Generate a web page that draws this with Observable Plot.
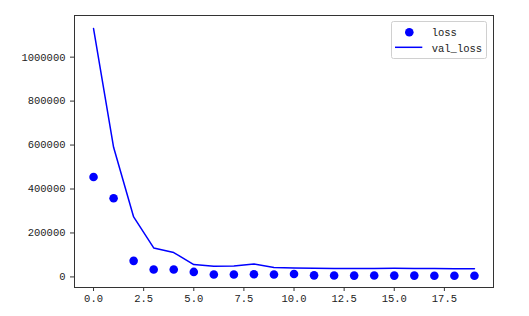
<!DOCTYPE html>
<html>
<head>
<meta charset="utf-8">
<script src="https://cdn.jsdelivr.net/npm/d3@7"></script>
<script src="https://cdn.jsdelivr.net/npm/@observablehq/plot@0.6"></script>
<style>
  html, body { margin: 0; padding: 0; background: #fff; }
  #chart { width: 529px; height: 316px; }
</style>
</head>
<body>
<div id="chart"></div>
<script>
const epochs = [0, 1, 2, 3, 4, 5, 6, 7, 8, 9, 10, 11, 12, 13, 14, 15, 16, 17, 18, 19];
const loss = [454500, 358000, 73000, 34000, 34000, 22700, 11000, 11000, 12000, 11000, 13000, 7000, 6500, 6000, 6500, 6000, 6000, 5500, 5500, 5000];
const valLoss = [1130000, 590000, 273000, 132000, 111000, 56000, 49000, 50000, 59000, 43000, 41000, 39000, 38000, 38000, 38000, 39000, 38000, 38000, 37500, 37000];
const xTicks = [0, 2.5, 5, 7.5, 10, 12.5, 15, 17.5];
const yTicks = [0, 200000, 400000, 600000, 800000, 1000000];
const seriesNames = ["loss", "val_loss"];

const lossData = epochs.map((e, i) => ({epoch: e, value: loss[i]}));
const valData = epochs.map((e, i) => ({epoch: e, value: valLoss[i]}));

const font = "'Liberation Mono', 'DejaVu Sans Mono', monospace";

const chart = Plot.plot({
  width: 529,
  height: 316,
  marginLeft: 74,
  marginRight: 36,
  marginTop: 15,
  marginBottom: 29,
  style: {fontFamily: font, fontSize: "10.5px", color: "#222", background: "#fff"},
  x: {domain: [-0.95, 19.95], label: null},
  y: {domain: [-48182, 1189545], label: null},
  marks: [
    Plot.axisX({ticks: xTicks, tickFormat: d3.format(".1f"), tickSize: 4, tickPadding: 3, stroke: "#333", label: null}),
    Plot.axisY({ticks: yTicks, tickFormat: d3.format("d"), tickSize: 4, tickPadding: 5, stroke: "#333", label: null}),
    Plot.line(valData, {x: "epoch", y: "value", stroke: "#0000ff", strokeWidth: 1.5}),
    Plot.dot(lossData, {x: "epoch", y: "value", r: 4.3, fill: "#0000ff", stroke: "none"}),
    Plot.frame({stroke: "#333", strokeWidth: 1})
  ]
});
document.getElementById("chart").appendChild(chart);

// legend
const svg = d3.select(chart);
const g = svg.append("g").attr("font-family", font).attr("font-size", "10.5px").attr("fill", "#222")
  .attr("text-anchor", "start");
g.append("rect").attr("x", 391.5).attr("y", 21.5).attr("width", 95).attr("height", 37).attr("rx", 2)
  .attr("fill", "#fff").attr("fill-opacity", 0.8).attr("stroke", "#d0d0d0");
g.append("circle").attr("cx", 409.3).attr("cy", 32.3).attr("r", 4.3).attr("fill", "#0000ff");
g.append("line").attr("x1", 395).attr("x2", 422.3).attr("y1", 47.3).attr("y2", 47.3)
  .attr("stroke", "#0000ff").attr("stroke-width", 1.5);
g.append("text").attr("x", 431.7).attr("y", 32.3).attr("dy", "0.35em").attr("text-anchor", "start").text(seriesNames[0]);
g.append("text").attr("x", 431.7).attr("y", 48.5).attr("dy", "0.35em").attr("text-anchor", "start").text(seriesNames[1]);
</script>
</body>
</html>
